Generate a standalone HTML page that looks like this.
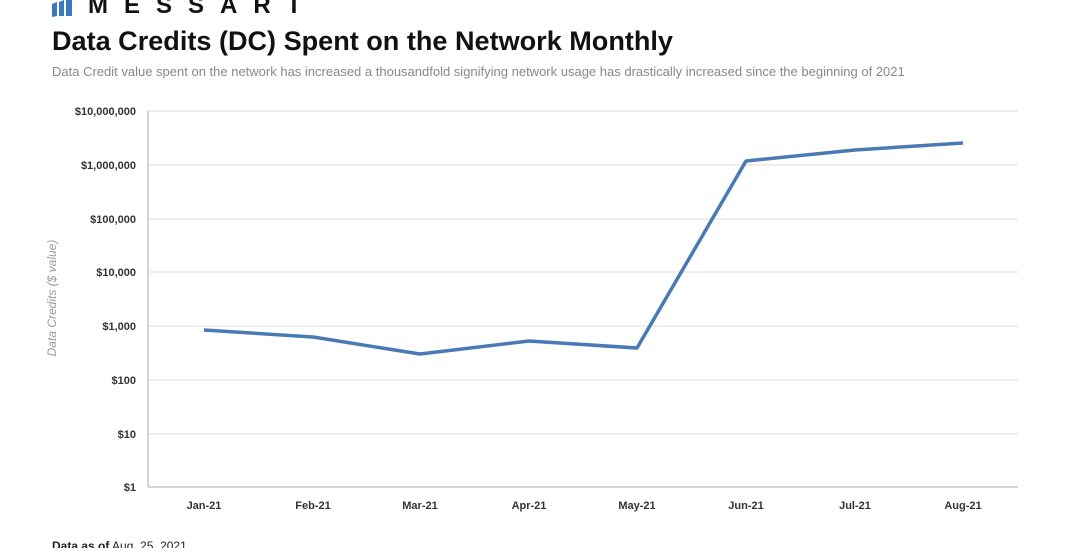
<!DOCTYPE html><html><head><style>body{margin:0;background:#fff;width:1080px;height:548px;overflow:hidden;font-family:"Liberation Sans",sans-serif}</style></head><body>
<svg width="1080" height="548" xmlns="http://www.w3.org/2000/svg" font-family="Liberation Sans, sans-serif">
<g fill="#3a7bc0"><polygon points="52,4 57,2 57,16 52,17"/><polygon points="59,2 64,0 64,16 59,16"/><polygon points="66,0 72,-2 72,16 66,16"/></g>
<text x="88" y="13" font-size="24" font-weight="bold" fill="#111" letter-spacing="16">MESSART</text>
<text x="52" y="50" font-size="26.5" font-weight="bold" fill="#111" textLength="621" lengthAdjust="spacingAndGlyphs">Data Credits (DC) Spent on the Network Monthly</text>
<text x="52" y="76" font-size="13" fill="#888">Data Credit value spent  on the network has increased a thousandfold signifying network usage has drastically increased since the beginning of 2021</text>
<g stroke="#ddd" stroke-width="1"><line x1="148" y1="111" x2="1018" y2="111"/><line x1="148" y1="165" x2="1018" y2="165"/><line x1="148" y1="219" x2="1018" y2="219"/><line x1="148" y1="272" x2="1018" y2="272"/><line x1="148" y1="326" x2="1018" y2="326"/><line x1="148" y1="380" x2="1018" y2="380"/><line x1="148" y1="434" x2="1018" y2="434"/></g>
<g stroke="#aaa"><line x1="148" y1="111" x2="148" y2="487"/><line x1="148" y1="487" x2="1018" y2="487"/></g>
<g font-size="11" fill="#333" font-weight="bold" text-anchor="end"><text x="136" y="115">$10,000,000</text><text x="136" y="169">$1,000,000</text><text x="136" y="223">$100,000</text><text x="136" y="276">$10,000</text><text x="136" y="330">$1,000</text><text x="136" y="384">$100</text><text x="136" y="438">$10</text><text x="136" y="491">$1</text></g>
<g font-size="11" fill="#333" font-weight="bold" text-anchor="middle"><text x="204" y="509">Jan-21</text><text x="313" y="509">Feb-21</text><text x="420" y="509">Mar-21</text><text x="529" y="509">Apr-21</text><text x="637" y="509">May-21</text><text x="746" y="509">Jun-21</text><text x="855" y="509">Jul-21</text><text x="963" y="509">Aug-21</text></g>
<text transform="translate(56,298) rotate(-90)" font-size="12" font-style="italic" fill="#999" text-anchor="middle">Data Credits ($ value)</text>
<polyline fill="none" stroke="#4a7ab5" stroke-width="3.5" stroke-linejoin="round" points="204,330 313,337 420,354 529,341 637,348 746,161 855,150 963,143"/>
<text x="52" y="550" font-size="12" fill="#222"><tspan font-weight="bold">Data as of</tspan> Aug. 25, 2021</text>
</svg></body></html>
